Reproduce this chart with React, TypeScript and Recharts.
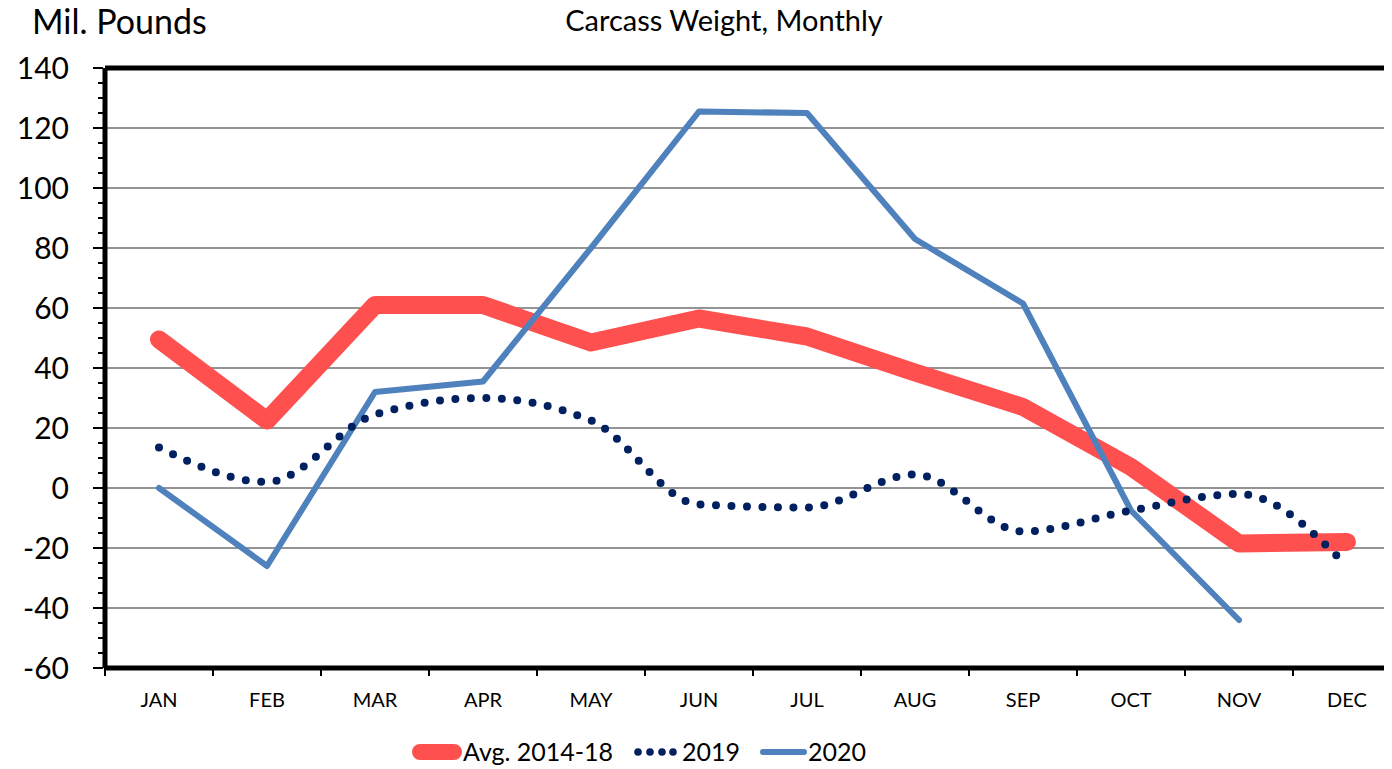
import { LineChart, Line, XAxis, YAxis, CartesianGrid, ReferenceLine } from 'recharts';

const months = ['JAN', 'FEB', 'MAR', 'APR', 'MAY', 'JUN', 'JUL', 'AUG', 'SEP', 'OCT', 'NOV', 'DEC'];
const avg1418 = [49.5, 22.5, 61, 61, 48.5, 56.5, 50.5, 38.5, 27, 7, -18.5, -18];
const y2019 = [13.5, 2, 24.5, 30, 22.5, -5.5, -6.5, 4.5, -14.5, -7.5, -2, -26];
const y2020 = [0, -26, 32, 35.5, 80, 125.5, 125, 83, 61.5, -7.5, -44, null];
const majorTicks = [-60, -40, -20, 0, 20, 40, 60, 80, 100, 120, 140];
const gridValues = [-40, -20, 0, 20, 40, 60, 80, 100, 120];

// minor ticks every 5 between the labelled ones
const allTicks = majorTicks.flatMap((t, i) =>
  i === majorTicks.length - 1 ? [t] : [t, t + 5, t + 10, t + 15]
);

const data = months.map((m, i) => ({
  month: m,
  avg: avg1418[i],
  y2019: y2019[i],
  y2020: y2020[i],
}));

const FONT = 'Lato, "DejaVu Sans", sans-serif';
const CHART_W = 1410;
const CHART_H = 769;
const PLOT_LEFT = 105;
const PLOT_RIGHT = 9;
const BAND = (CHART_W - PLOT_LEFT - PLOT_RIGHT) / months.length;

const YTick = ({ x, y, payload }: any) => {
  const major = payload.value % 20 === 0;
  return (
    <g>
      <line x1={x - (major ? 12 : 7)} x2={x - 2} y1={y} y2={y} stroke="#000" strokeWidth={2} />
      {major && (
        <text x={x - 36} y={y + 11} textAnchor="end" fontSize={30} fontFamily={FONT} fill="#000">
          {payload.value}
        </text>
      )}
    </g>
  );
};

const XTick = ({ x, y, payload }: any) => (
  <g>
    <line x1={x - BAND / 2} x2={x - BAND / 2} y1={y} y2={y + 8} stroke="#000" strokeWidth={2} />
    <text x={x} y={y + 39} textAnchor="middle" fontSize={20} fontFamily={FONT} fill="#000">
      {payload.value}
    </text>
  </g>
);

export default function App() {
  return (
    <div
      style={{
        position: 'relative',
        marginLeft: -8,
        marginTop: -8,
        width: 1392,
        height: 769,
        overflow: 'hidden',
        background: '#fff',
      }}
    >
      <LineChart
        width={CHART_W}
        height={CHART_H}
        data={data}
        margin={{ top: 68, right: PLOT_RIGHT, bottom: 61, left: 0 }}
      >
        <CartesianGrid horizontal vertical={false} horizontalValues={gridValues} stroke="#949494" strokeWidth={2} />
        <XAxis
          dataKey="month"
          height={40}
          padding={{ left: BAND / 2, right: BAND / 2 }}
          axisLine={{ stroke: '#000', strokeWidth: 5 }}
          tickLine={false}
          tickSize={0}
          tickMargin={0}
          interval={0}
          tick={<XTick />}
        />
        <YAxis
          type="number"
          width={PLOT_LEFT}
          domain={[-60, 140]}
          ticks={allTicks}
          interval={0}
          axisLine={{ stroke: '#000', strokeWidth: 5 }}
          tickLine={false}
          tickSize={0}
          tickMargin={0}
          tick={<YTick />}
        />
        <ReferenceLine y={140} stroke="#000" strokeWidth={5} />
        <Line
          dataKey="avg"
          type="linear"
          stroke="#FF5050"
          strokeWidth={18}
          strokeLinecap="round"
          strokeLinejoin="round"
          dot={false}
          activeDot={false}
          isAnimationActive={false}
        />
        <Line
          dataKey="y2020"
          type="linear"
          stroke="#4F81BD"
          strokeWidth={6}
          strokeLinecap="round"
          strokeLinejoin="round"
          dot={false}
          activeDot={false}
          isAnimationActive={false}
        />
        <Line
          dataKey="y2019"
          type="monotone"
          stroke="#002060"
          strokeWidth={8}
          strokeDasharray="0 15.5"
          strokeLinecap="round"
          dot={false}
          activeDot={false}
          isAnimationActive={false}
        />
      </LineChart>
      <svg
        width={1392}
        height={769}
        style={{ position: 'absolute', left: 0, top: 0, pointerEvents: 'none' }}
        fontFamily={FONT}
      >
        <text x={724} y={31} textAnchor="middle" fontSize={29} fill="#000">
          Carcass Weight, Monthly
        </text>
        <text x={32} y={34} fontSize={34} fill="#000">
          Mil. Pounds
        </text>
        <g>
          <line x1={420} x2={454} y1={752} y2={752} stroke="#FF5050" strokeWidth={16} strokeLinecap="round" />
          <text x={463} y={761} fontSize={25} fill="#000">Avg. 2014-18</text>
          {[638, 650, 662, 673].map((cx) => (
            <circle key={cx} cx={cx} cy={752} r={3.8} fill="#002060" />
          ))}
          <text x={682} y={761} fontSize={25} fill="#000">2019</text>
          <line x1={763} x2={804} y1={752} y2={752} stroke="#4F81BD" strokeWidth={6} strokeLinecap="round" />
          <text x={808} y={761} fontSize={25} fill="#000">2020</text>
        </g>
      </svg>
    </div>
  );
}
